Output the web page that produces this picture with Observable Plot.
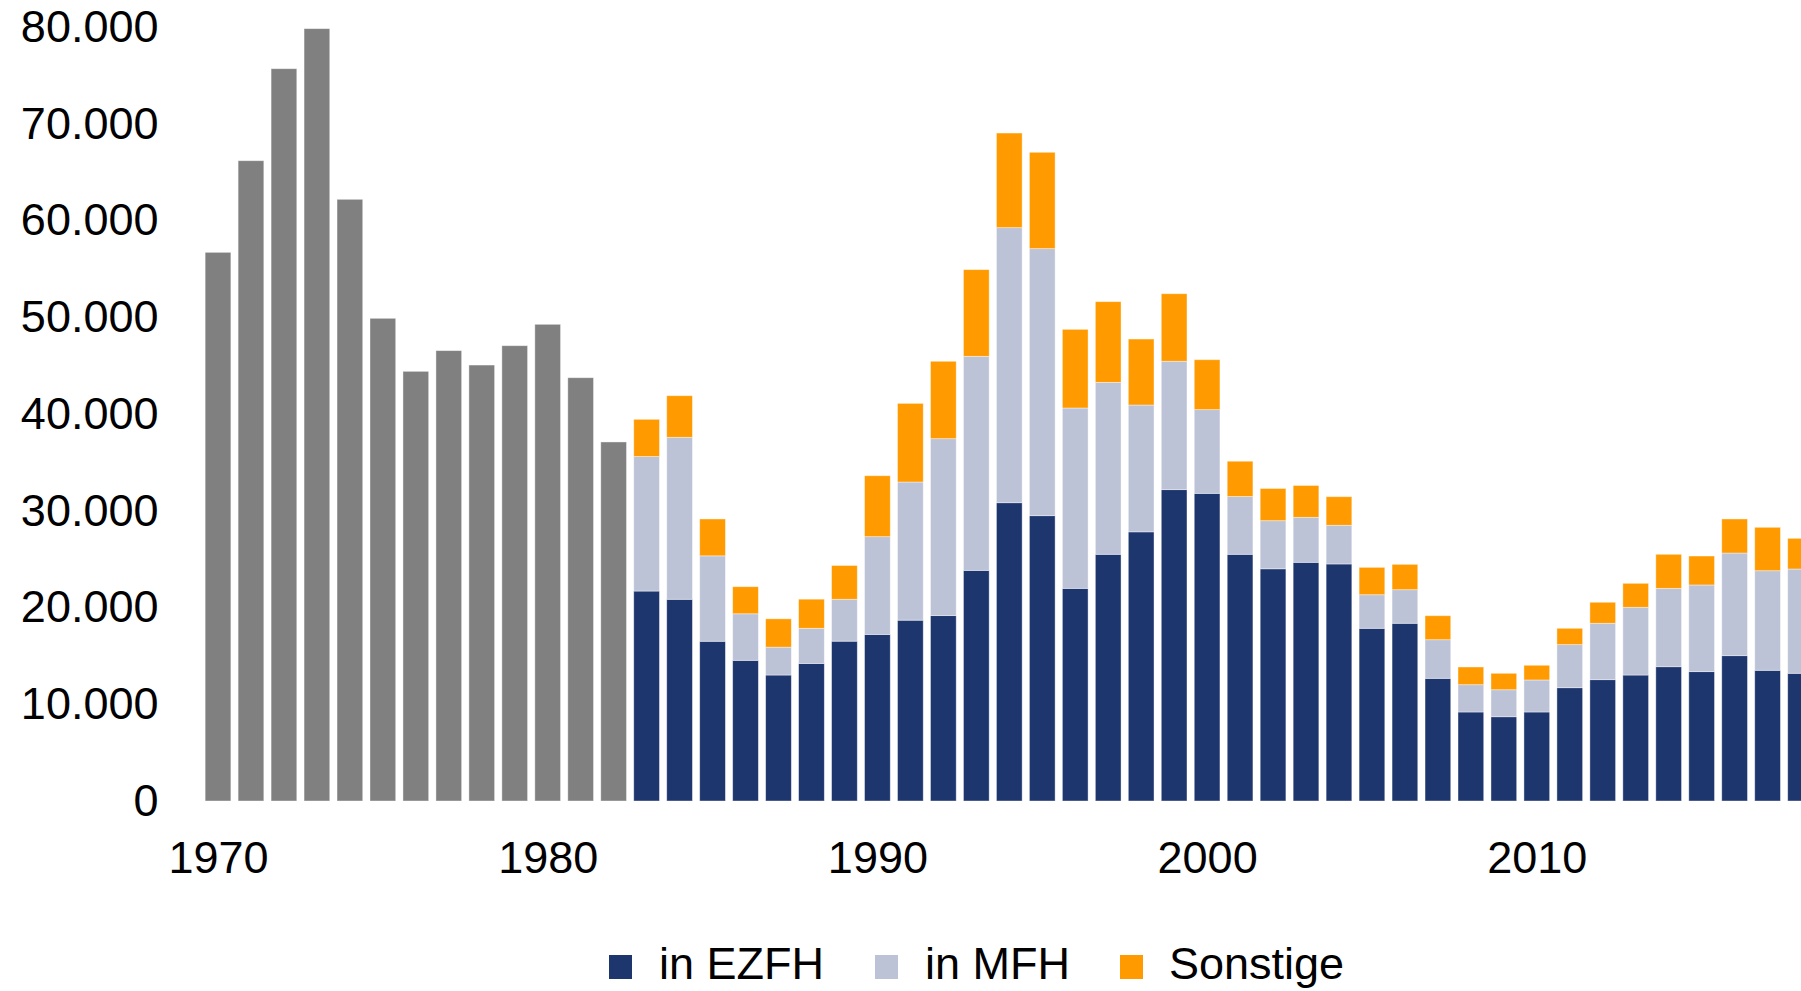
<!DOCTYPE html>
<html>
<head>
<meta charset="utf-8">
<script src="https://cdn.jsdelivr.net/npm/d3@7"></script>
<script src="https://cdn.jsdelivr.net/npm/@observablehq/plot@0.6"></script>
<style>
  html, body { margin: 0; padding: 0; background: #fff; overflow: hidden; }
  #wrap { position: relative; width: 1801px; height: 991px; overflow: hidden; }
  #chart svg { overflow: hidden; display: block; }
  #legend { position: absolute; left: 0; top: 900px; width: 1801px; height: 91px;
            font-family: "Liberation Sans", Arial, sans-serif; font-size: 45px; color: #000; }
  .sw { position: absolute; top: 55px; width: 23px; height: 24px; }
  .lt { position: absolute; top: 41px; line-height: 45px; white-space: nowrap; }
</style>
</head>
<body>
<div id="wrap">
  <div id="chart"></div>
  <div id="legend"></div>
</div>
<script>
// Years with total only (grey bars)
const earlyYears = [1970,1971,1972,1973,1974,1975,1976,1977,1978,1979,1980,1981,1982];
const earlyTotal = [56710,66180,75690,79830,62190,49890,44410,46550,45060,47060,49270,43750,37110];

// Years with breakdown
const lateYears = [1983,1984,1985,1986,1987,1988,1989,1990,1991,1992,1993,1994,1995,1996,1997,1998,1999,2000,
                   2001,2002,2003,2004,2005,2006,2007,2008,2009,2010,2011,2012,2013,2014,2015,2016,2017,2018];
const ezfh     = [21700,20850,16510,14540,13020,14220,16520,17220,18690,19160,23840,30830,29490,21980,25500,27820,32180,31800,
                  25500,24000,24670,24500,17850,18370,12680,9200,8710,9200,11710,12540,13020,13880,13370,15020,13510,13200];
const mfh      = [13900,16740,8830,4810,2880,3630,4330,10100,14280,18290,22120,28430,27600,18640,17770,13110,13270,8650,
                  5970,4970,4650,4000,3470,3470,3990,2820,2790,3310,4450,5830,7000,8100,8960,10610,10290,10780];
const sonstige = [3850,4300,3810,2800,2930,3010,3490,6300,8130,8000,8960,9780,9960,8130,8340,6820,6980,5160,
                  3650,3330,3290,2950,2830,2620,2480,1830,1700,1520,1690,2170,2480,3520,2990,3520,4490,3170];

const seriesNames = ["Gesamt", "in EZFH", "in MFH", "Sonstige"];
const seriesColors = ["#808080", "#1E366E", "#BDC3D7", "#FF9B00"];
const legendNames = ["in EZFH", "in MFH", "Sonstige"];
const xTicks = [1970, 1980, 1990, 2000, 2010];
const yTicks = [0,10000,20000,30000,40000,50000,60000,70000,80000];

const allYears = earlyYears.concat(lateYears);

const rows = [];
earlyYears.forEach((y, i) => rows.push({year: y, series: "Gesamt", value: earlyTotal[i]}));
lateYears.forEach((y, i) => {
  rows.push({year: y, series: "in EZFH", value: ezfh[i]});
  rows.push({year: y, series: "in MFH", value: mfh[i]});
  rows.push({year: y, series: "Sonstige", value: sonstige[i]});
});

const locale = d3.formatLocale({decimal: ",", thousands: ".", grouping: [3], currency: ["", "€"]});
const fmt = locale.format(",d");

const W = 1801, H = 900;
const step = 32.97, pad = 0.22;
const r0 = 218 - step * (0.5 + pad / 2);
const r1 = r0 + step * (allYears.length + pad);

const chart = Plot.plot({
  width: W,
  height: H,
  marginTop: 27,
  marginBottom: 99,
  marginLeft: 160,
  marginRight: 0,
  style: {fontFamily: "'Liberation Sans', Arial, sans-serif", fontSize: "45px", color: "#000", background: "#fff"},
  x: {type: "band", domain: allYears, range: [r0, r1], paddingInner: pad, paddingOuter: pad, align: 0.5, round: false,
      label: null, ticks: xTicks, tickSize: 0, tickPadding: 40, tickFormat: d => String(d)},
  y: {domain: [0, 80000], label: null, ticks: yTicks, tickSize: 0, tickPadding: 2, tickFormat: fmt},
  color: {domain: seriesNames, range: seriesColors},
  marks: [
    Plot.barY(rows, {x: "year", y: "value", fill: "series", z: "series",
                     stroke: "#fff", strokeWidth: 0.8, strokeOpacity: 0.5})
  ]
});
document.getElementById("chart").appendChild(chart);

// Legend
const lg = document.getElementById("legend");
const swLeft = [609, 875, 1120];
const txLeft = [659, 925, 1169];
legendNames.forEach((n, i) => {
  const sw = document.createElement("div");
  sw.className = "sw";
  sw.style.left = swLeft[i] + "px";
  sw.style.background = seriesColors[seriesNames.indexOf(n)];
  lg.appendChild(sw);
  const t = document.createElement("div");
  t.className = "lt";
  t.style.left = txLeft[i] + "px";
  t.textContent = n;
  lg.appendChild(t);
});
</script>
</body>
</html>
